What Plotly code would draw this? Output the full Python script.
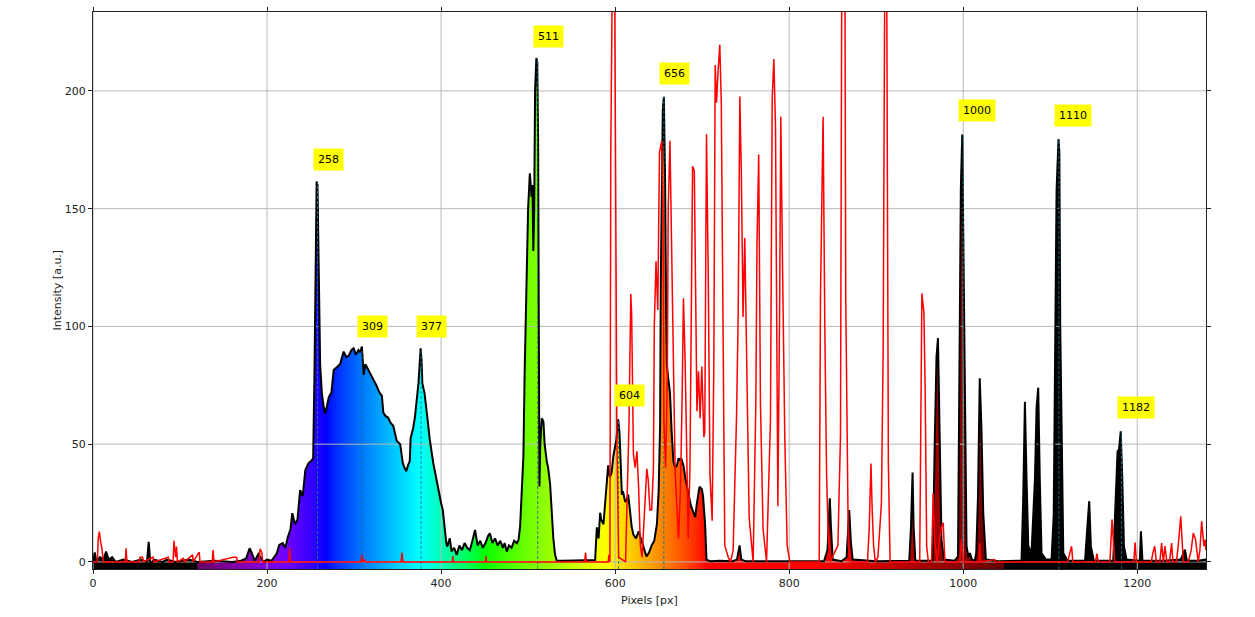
import numpy as np
import plotly.graph_objects as go

# ---------------- data ----------------
spec_x = [0, 2, 4, 8, 12, 15, 18, 22, 26, 35, 45, 55, 62, 64, 66, 70, 80, 85, 95, 110, 120, 140, 160, 170,
          176, 180, 182.5, 186, 190, 196, 200, 205, 208, 211, 214, 218, 221, 224, 227, 229, 232, 235, 238,
          241, 244, 247.7, 251, 253, 254.5, 256, 257, 258, 259, 260, 261, 263, 265, 267, 269, 271, 274,
          276.6, 280.5, 284, 288, 291, 294, 297, 299.5, 302, 305, 307, 309, 311, 313, 316, 320, 323, 326,
          329, 332, 333.6, 336, 339, 342, 345, 349, 353, 356, 358, 360, 362, 364, 365, 368, 370, 372, 374,
          376.5, 377.5, 378.5, 381, 384, 387, 391, 393, 396, 400, 402, 404, 406, 407, 410, 412, 415, 418,
          421, 424, 427, 430, 433, 436, 439, 442, 445, 448, 451, 454, 456, 459, 462, 465, 468, 471, 473,
          475.5, 478, 481, 484, 487, 489, 490.8, 492, 494.6, 496, 498.5, 500, 502, 503, 504, 505, 506,
          507, 508, 509.5, 510.5, 511.5, 512, 513, 514, 515.7, 517.6, 519, 521.5, 523, 525.3, 527, 529,
          531, 533, 540, 560, 575, 577, 579, 581, 582.8, 584, 586.6, 588, 590, 592, 594, 596, 598, 600,
          601.5, 603.5, 605, 606.5, 607.7, 609, 611.5, 613, 615, 617, 619, 621, 624, 627, 630.6, 633, 636,
          639, 642, 645, 648, 650, 651.7, 652.5, 653.6, 654.8, 656, 657.5, 658.5, 659.4, 661, 663, 665,
          667, 669, 671, 673, 674.7, 676, 678.5, 681, 684, 687, 690, 692, 694, 695.8, 697, 699.6, 701,
          703.4, 705, 710, 720, 735, 740, 743, 745, 750, 800, 840, 844, 845, 846.7, 848, 850, 860, 866,
          869, 871, 873, 900, 938, 940, 941.8, 943, 945, 965, 967.4, 969.3, 971, 972, 973, 975, 978, 990,
          994, 996, 997.3, 998.9, 1000, 1001, 1002, 1003.8, 1006, 1007.7, 1010, 1013.4, 1015, 1017, 1019,
          1021, 1023, 1026, 1040, 1067, 1069, 1070.9, 1072.8, 1074.8, 1078.5, 1082.4, 1084.3, 1086.2,
          1088, 1090, 1095, 1101.5, 1104, 1105.4, 1107.3, 1109.5, 1110.5, 1111.5, 1113, 1115, 1120, 1140,
          1143, 1144.8, 1146.7, 1150, 1172.4, 1175.5, 1177.4, 1179, 1181, 1182.8, 1184.7, 1187.7, 1203,
          1204.2, 1206, 1230, 1250, 1254.8, 1257, 1270, 1279]
spec_y = [0, 4, 0, 2, 1, 4.4, 1, 2, 0, 1, 0, 1, 0, 8.5, -1, 1, 0, 1, 0, 1, 0, 0.5, 0, 0.5,
          1.5, 5.8, 3.7, 0.5, 3.4, 0, 1, 0.5, 2, 3.5, 7.2, 8, 6, 10.7, 14, 20.7, 16, 18, 30.5,
          28, 39, 42, 43, 44, 80, 138, 161.5, 160, 139, 110, 84, 71.6, 66, 63, 67, 70, 72,
          81.5, 82.8, 84, 89.3, 87, 87.6, 90, 90.7, 88, 90, 89, 91.5, 79.4, 84, 82, 79, 77, 74.7,
          72, 70.5, 63.4, 62, 61.3, 59, 57.8, 51.5, 50, 42, 40, 38.5, 41, 42.8, 52.6, 57, 61.7, 68, 75.8,
          90.7, 86, 75.8, 71.6, 62, 51.9, 42, 38, 33.4, 25, 22, 13.7, 8, 6.5, 10, 4.5, 6, 3,
          7, 5, 8, 6, 5, 9, 13.6, 7, 9, 6, 8, 11, 12.2, 8, 10, 7, 9, 6, 8,
          4.4, 7, 6, 9, 8, 9.3, 15, 25, 45, 80, 134, 150, 165, 158, 155, 160, 132,
          150, 200, 214, 212, 180, 112, 32, 50, 61, 59.6, 50, 42.6, 40, 33, 22, 10,
          3, 0.5, 0.5, 0.5, 0.5, 0.8, 14.7, 10, 20.9, 18, 16, 22, 30, 41, 36, 38, 45, 48.8,
          52, 60.5, 55, 41, 28.6, 30, 25.5, 26, 28.6, 22, 15, 11.6, 10, 13, 8.5, 5, 2.3,
          4, 7, 9, 16, 30, 58, 120, 169.5, 192, 197.5, 160, 110, 84, 78, 72, 55,
          42.6, 40, 41, 44, 43.3, 44, 41, 35, 28.6, 24, 21, 19, 25, 30, 32, 31, 28,
          16, 0.8, 0.3, 0.5, 0.3, 1, 7, 1, 0.3, 0.3, 0.3, 5, 15, 27, 15, 1, 0.3, 2,
          22, 8, 1, 0.3, 0.5, 15, 38, 15, 0.5, 0.5, 53, 87, 95, 70, 42, 9.5, 1, 0.5,
          2.4, 86, 159, 181.5, 145.5, 110, 72, 6.7, 2, 3.8, 1, 0.5, 4, 28, 78,
          56, 21, 1, 0.3, 0.5, 28, 68, 35, 6.7, 3.8, 35, 65.4, 74,
          35, 3.8, 1, 1, 20, 70, 158, 179.5, 174, 100, 49, 3.8, 0.5, 0.5,
          16.6, 25.8, 6.7, 0.5, 0.5, 35, 47, 47.7, 55.5, 35, 6.7, 1, 0.5,
          13, 0.5, 0.5, 1, 5.2, 0.5, 0.5, 1]

ref_x = [0, 5, 6, 7.3, 9, 10, 12, 20, 37, 38, 39, 53, 54, 57, 58, 69, 70, 86.5, 87, 92, 93, 95, 96, 97,
         103.8, 105, 114.5, 115, 122, 123, 137, 138, 139, 161, 165, 166, 191, 192, 194, 195, 225, 226,
         227, 308, 309, 310, 312, 313, 354, 355, 356, 413, 413.4, 414, 451, 451.7, 452, 565, 566, 567,
         592, 593, 594, 595, 597, 599.3, 600.4, 602, 604, 612, 616, 617, 618, 619, 620, 621, 623, 625,
         627, 629, 631, 634, 636.4, 638, 640, 642, 644, 645, 647, 649, 650, 651, 653.6, 655, 656, 658,
         660, 661, 663, 665, 667, 669, 672.8, 675, 677, 678.5, 680.5, 682, 684, 686, 688, 689, 691, 692,
         694, 695.8, 697.7, 699.6, 701, 702, 703, 705, 707, 709, 711.5, 713.4, 715, 716.5, 718.4, 720.3,
         722, 724, 726, 730, 732.6, 735.6, 739.5, 741.4, 743.3, 745, 746.4, 747, 749, 751, 754, 758.6,
         761.7, 763, 765, 767, 770, 774, 778.5, 780.5, 782.4, 784.3, 786, 787, 789, 790.4, 792.3, 795,
         797.7, 800.8, 834.5, 836, 838, 839, 841, 843, 845, 847, 856, 859, 860.5, 864, 865, 866.7, 868,
         870, 890, 892, 894, 895.4, 897, 899, 902, 906, 908, 910, 912, 914, 916, 950, 952.5, 954.8,
         956.3, 958, 960, 963.6, 965.5, 967.4, 970, 972.4, 975, 977, 979, 996, 998, 1000, 1018, 1019,
         1020, 1036, 1037, 1120, 1123, 1124.5, 1126, 1152, 1153.6, 1155, 1168.6, 1170, 1171, 1172, 1174,
         1196, 1197.5, 1199, 1216, 1218, 1220, 1222, 1226, 1228, 1230, 1231.8, 1234, 1237, 1239.5, 1241,
         1245, 1247, 1250, 1252.9, 1258.6, 1262, 1264.4, 1267, 1270, 1272, 1274, 1276.6, 1278, 1279]
ref_y = [0, 0, 10, 12.9, 8, 6.5, 0, 0, 0, 5.8, 0, 0, 2, 2, 0, 2, 0, 2, 0, 0, 9, 2, 6.5, 0,
         1.5, 0, 3, 0, 4.2, 0, 0, 5, 0, 2, 2, 0, 0, 5.6, 4, 0, 0, 6,
         0, 0, 3, 0, 1, 0, 0, 4, 0, 0, 2.5, 0, 0, 2.5, 0, 0, 4, 0,
         0, 3, 0, 174, 260, 260, 138, 53, 2, 0, 60, 100, 113.8, 105, 70, 45.7, 40, 47,
         31.7, 7, 2, 20, 39.5, 35, 22, 22, 40, 100, 127.7, 107, 150, 174, 178.8, 150, 60, 40,
         80, 150, 178.8, 130, 80, 38, 10, 30, 70, 112, 84, 50, 10, 40, 120, 168, 166, 120,
         64, 81, 61, 83, 70, 53, 55, 181.6, 122, 37, 17.5, 83, 211, 195, 209, 219.6,
         194.5, 80, 7, 2, 0, 5, 61.5, 104, 197.6, 166, 125, 104, 137.5, 93.5, 19, 0,
         67.6, 134.5, 173, 67.6, 14, 0, 60, 196.8, 213.5, 184.7, 67.6, 23.6, 105.6, 189, 128, 52,
         7, 0, 0, 113, 165, 189, 98, 37, 10, 0, 7, 54, 260, 260, 113, 37, 7,
         0, 0, 14.4, 41.8, 22, 7, 0, 2, 25, 89, 260, 260, 41.8, 0, 0, 114, 106,
         73, 6.7, 0, 0, 29, 8, 0, 8, 15, 16.6, 0, 0, 9.5, 0, 0, 8,
         0, 1, 0, 0, 5, 6.7, 0, 0, 3.5, 0, 0, 15, 18, 12, 0,
         0, 8.3, 0, 0, 3.8, 6.7, 0, 0, 8, 0, 6.7, 0, 0, 8, 0,
         0, 6.7, 19.4, 0, 0, 5, 12.3, 9.5, 0, 5, 17.3, 6.7, 9.5, 5]

peak_px = [258, 309, 377, 511, 604, 656, 1000, 1110, 1182]
peak_val = [161, 90, 90, 213, 60.5, 197.5, 181.5, 179.5, 55.5]
peak_labels = ["258", "309", "377", "511", "604", "656", "1000", "1110", "1182"]

x_ticks = [0, 200, 400, 600, 800, 1000, 1200]
y_ticks = [0, 50, 100, 150, 200]

# ---------------- styling helpers ----------------
X_MIN, X_MAX = 0, 1279
Y_MIN, Y_MAX = -3, 233.5
PX_ANCHOR = [120, 225, 268, 375, 450, 590, 705, 830, 1047]
WL_ANCHOR = [380, 420, 440, 490, 510, 580, 645, 700, 750]


def px_to_rgb(px):
    if px < PX_ANCHOR[0] or px > PX_ANCHOR[-1]:
        return "rgb(0,0,0)"
    wl = float(np.interp(px, PX_ANCHOR, WL_ANCHOR))
    if wl < 440:
        r, g, b = -(wl - 440) / 60, 0.0, 1.0
    elif wl < 490:
        r, g, b = 0.0, (wl - 440) / 50, 1.0
    elif wl < 510:
        r, g, b = 0.0, 1.0, -(wl - 510) / 20
    elif wl < 580:
        r, g, b = (wl - 510) / 70, 1.0, 0.0
    elif wl < 645:
        r, g, b = 1.0, -(wl - 645) / 65, 0.0
    else:
        r, g, b = 1.0, 0.0, 0.0
    if wl < 420:
        f = 0.3 + 0.7 * (wl - 380) / 40
    elif wl > 700:
        f = 0.3 + 0.7 * (750 - wl) / 50
    else:
        f = 1.0
    c = [int(round(255 * (max(v, 0) * f) ** 0.8)) for v in (r, g, b)]
    return "rgb(%d,%d,%d)" % tuple(c)


stops = sorted(set(list(range(X_MIN, X_MAX + 1, 4)) + [X_MAX, 119.5, 120, 1047, 1047.5]))
colorscale = [[(p - X_MIN) / (X_MAX - X_MIN), px_to_rgb(p)] for p in stops]

fig = go.Figure()

# rainbow fill under the spectrum
fig.add_trace(go.Scatter(
    x=[spec_x[0]] + spec_x + [spec_x[-1], spec_x[0]],
    y=[Y_MIN] + spec_y + [Y_MIN, Y_MIN],
    mode="lines", line=dict(width=0), fill="toself",
    fillgradient=dict(type="horizontal", colorscale=colorscale, start=X_MIN, stop=X_MAX),
    hoverinfo="skip", showlegend=False))

# grid (above fill, below lines)
gx, gy = [], []
for t in x_ticks:
    gx += [t, t, None]
    gy += [Y_MIN, Y_MAX, None]
for t in y_ticks:
    gx += [X_MIN, X_MAX, None]
    gy += [t, t, None]
fig.add_trace(go.Scatter(x=gx, y=gy, mode="lines", line=dict(color="#b8b8b8", width=1),
                         hoverinfo="skip", showlegend=False))

# black spectrum line
fig.add_trace(go.Scatter(x=spec_x, y=spec_y, mode="lines",
                         line=dict(color="black", width=2), showlegend=False))

# dashed peak markers
vx, vy = [], []
for p, v in zip(peak_px, peak_val):
    vx += [p, p, None]
    vy += [Y_MIN, v, None]
fig.add_trace(go.Scatter(x=vx, y=vy, mode="lines",
                         line=dict(color="rgba(20,120,140,0.9)", width=1, dash="3px,2px"),
                         hoverinfo="skip", showlegend=False))

# red reference spectrum
fig.add_trace(go.Scatter(x=ref_x, y=ref_y, mode="lines",
                         line=dict(color="#ff0000", width=1.5), showlegend=False))

for p, v, lab in zip(peak_px, peak_val, peak_labels):
    fig.add_annotation(x=p, y=v + 10, text=lab, showarrow=False, xanchor="left", yanchor="middle",
                       xshift=-5, bgcolor="#ffff00", borderpad=4,
                       font=dict(family="DejaVu Sans", size=11, color="black"))

# axis titles as paper annotations
PLOT_L, PLOT_T, PLOT_W, PLOT_H = 93, 12, 1113, 557
fig.add_annotation(xref="paper", yref="paper", x=0.5, y=-(600 - (PLOT_T + PLOT_H)) / PLOT_H,
                   text="Pixels [px]", showarrow=False, xanchor="center", yanchor="middle",
                   font=dict(family="DejaVu Sans", size=11, color="#222"))
fig.add_annotation(xref="paper", yref="paper", x=(57 - PLOT_L) / PLOT_W, y=0.5,
                   text="Intensity [a.u.]", showarrow=False, textangle=-90,
                   xanchor="center", yanchor="middle",
                   font=dict(family="DejaVu Sans", size=11, color="#222"))

axis_common = dict(showgrid=False, zeroline=False, showline=True, mirror="ticks", automargin=False,
                   linecolor="#222", linewidth=1, ticks="outside", ticklen=4, tickcolor="#222",
                   tickfont=dict(family="DejaVu Sans", size=11, color="#222"))
fig.update_xaxes(range=[X_MIN, X_MAX], tickvals=x_ticks, **axis_common)
fig.update_yaxes(range=[Y_MIN, Y_MAX], tickvals=y_ticks, **axis_common)
fig.update_layout(width=1255, height=617, autosize=False,
                  margin=dict(l=PLOT_L, r=1255 - PLOT_L - PLOT_W, t=PLOT_T, b=617 - PLOT_T - PLOT_H),
                  plot_bgcolor="white", paper_bgcolor="white")

fig.write_html("out.html", config={"displayModeBar": False},
               post_script="document.body.style.margin='0';"
                           "document.documentElement.style.overflow='hidden';")
